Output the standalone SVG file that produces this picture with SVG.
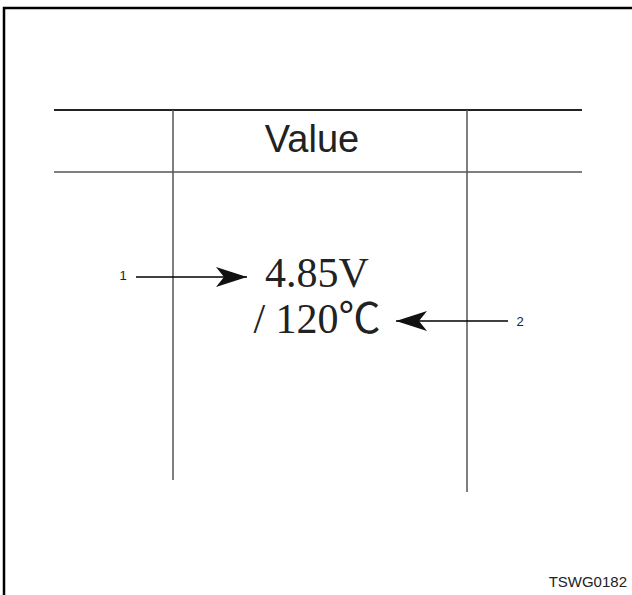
<svg xmlns="http://www.w3.org/2000/svg" width="632" height="595" viewBox="0 0 632 595">
<style>
.frame{fill:none;stroke:#000;stroke-width:2.5}
.hline{stroke:#222;stroke-width:2}
.hline2{stroke:#555;stroke-width:1.5}
.vline{stroke:#555;stroke-width:1.5}
.lead{stroke:#000;stroke-width:1.5;fill:none}
.sans{font-family:"Liberation Sans",Arial,sans-serif;fill:#222}
.val{font-family:"Liberation Serif","Noto Sans CJK JP",serif;font-size:42px;fill:#222}
</style>
<defs>
<marker id="ah" markerUnits="userSpaceOnUse" markerWidth="34" markerHeight="22" refX="32" refY="11" orient="auto">
<path d="M32,11 L1,1 L9,11 L1,21 Z" fill="#111"/>
</marker>
</defs>
<polyline class="frame" points="4,595 4,8 632,8"/>
<g id="table">
<line class="hline" x1="54" y1="110" x2="582" y2="110"/>
<line class="hline2" x1="54" y1="172" x2="582" y2="172"/>
<line class="vline" x1="173" y1="110" x2="173" y2="480"/>
<line class="vline" x1="467" y1="110" x2="467" y2="492"/>
</g>
<g id="header"><text class="sans" x="312" y="152" font-size="38" text-anchor="middle">Value</text></g>
<g id="value">
<text class="val" x="317" y="287" text-anchor="middle">4.85V</text>
<text class="val" x="317" y="333" text-anchor="middle">/ 120℃</text>
</g>
<g id="label1"><text class="sans" x="123" y="280" font-size="13" text-anchor="middle">1</text></g>
<g id="label2"><text class="sans" x="520" y="326" font-size="13" text-anchor="middle">2</text></g>
<g id="connectors">
<line class="lead" x1="136" y1="277" x2="247" y2="277" marker-end="url(#ah)"/>
<line class="lead" x1="508" y1="321" x2="396" y2="321" marker-end="url(#ah)"/>
</g>
<g id="code"><text class="sans" x="627" y="587" font-size="15" text-anchor="end">TSWG0182</text></g>
</svg>
